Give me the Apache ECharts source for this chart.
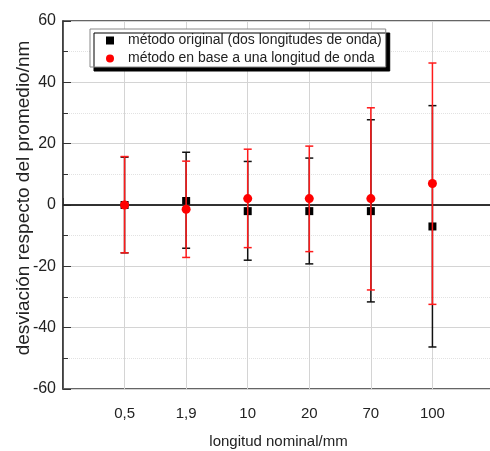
<!DOCTYPE html>
<html>
<head>
<meta charset="utf-8">
<script src="https://cdn.jsdelivr.net/npm/echarts@6/dist/echarts.min.js"></script>
<style>
  html, body { margin: 0; padding: 0; background: #fff; }
  #main { width: 490px; height: 451px; }
</style>
</head>
<body>
<div id="main"></div>
<script>
// categorías del eje x
var categories = ['0,5', '1,9', '10', '20', '70', '100'];
// método original (dos longitudes de onda)
var origValues = [0, 1.3, -2, -2, -2, -7];
var origUpper = [15.6, 17.2, 14.2, 15.3, 27.8, 32.4];
var origLower = [-15.6, -14.1, -18, -19.2, -31.6, -46.3];
// método en base a una longitud de onda
var oneValues = [0, -1.4, 2.1, 2.1, 2.1, 7];
var oneUpper = [15.8, 14.3, 18.2, 19.2, 31.7, 46.3];
var oneLower = [-15.6, -17.1, -13.9, -15.2, -27.7, -32.4];
var yTicks = [-60, -40, -20, 0, 20, 40, 60];

(function () {
  var myChart = echarts.init(document.getElementById('main'));
  var font = '"Liberation Sans", Arial, sans-serif';

  function pts(vals) {
    return vals.map(function (v, i) { return [i + 1, v]; });
  }
  function bars(lo, hi) {
    return lo.map(function (v, i) { return [i + 1, v, hi[i]]; });
  }
  function errRender(color) {
    return function (params, api) {
      var x = api.value(0);
      var bot = api.coord([x, api.value(1)]);
      var top = api.coord([x, api.value(2)]);
      var w = 4;
      var st = { stroke: color, lineWidth: 1.5 };
      return {
        type: 'group',
        children: [
          { type: 'line', shape: { x1: top[0], y1: top[1], x2: bot[0], y2: bot[1] }, style: st },
          { type: 'line', shape: { x1: top[0] - w, y1: top[1], x2: top[0] + w, y2: top[1] }, style: st },
          { type: 'line', shape: { x1: bot[0] - w, y1: bot[1], x2: bot[0] + w, y2: bot[1] }, style: st }
        ]
      };
    };
  }

  var option = {
    backgroundColor: '#fff',
    animation: false,
    grid: {
      left: 63, top: 21, width: 431, height: 368,
      outerBoundsMode: 'none',
      show: true, borderColor: '#333', borderWidth: 1.5
    },
    legend: {
      data: ['método original (dos longitudes de onda)', 'método en base a una longitud de onda'],
      orient: 'vertical',
      left: 90, top: 29,
      padding: [4, 4, 1, 16],
      itemWidth: 8, itemHeight: 8, itemGap: 3,
      backgroundColor: '#fff',
      borderColor: '#888', borderWidth: 1,
      shadowColor: '#000', shadowBlur: 0, shadowOffsetX: 4, shadowOffsetY: 4,
      textStyle: { fontFamily: font, fontSize: 14, color: '#222', lineHeight: 15, padding: [0, 0, 0, 9] }
    },
    xAxis: {
      type: 'value', min: 0, max: 7, interval: 1,
      name: 'longitud nominal/mm', nameLocation: 'middle', nameGap: 45,
      nameMoveOverlap: false,
      nameTextStyle: { fontFamily: font, fontSize: 15, color: '#222' },
      axisLine: { lineStyle: { color: '#333', width: 1.5 } },
      axisTick: { inside: true, length: 7, lineStyle: { color: '#333' } },
      axisLabel: {
        margin: 17, fontFamily: font, fontSize: 15, color: '#222',
        formatter: function (v) { return categories[v - 1] || ''; }
      },
      splitLine: { show: true, lineStyle: { color: '#d4d4d4', width: 1 } }
    },
    yAxis: {
      type: 'value', min: yTicks[0], max: yTicks[yTicks.length - 1], interval: 20,
      name: 'desviación respecto del promedio/nm', nameLocation: 'middle', nameGap: 30,
      nameMoveOverlap: false,
      nameTextStyle: { fontFamily: font, fontSize: 19, color: '#222', padding: [0, 0, 0, 14] },
      axisLine: { show: true, lineStyle: { color: '#333', width: 1.5 } },
      axisTick: { inside: true, length: 8, lineStyle: { color: '#333' } },
      minorTick: { show: true, splitNumber: 2, length: 5, lineStyle: { color: '#333' } },
      axisLabel: { margin: 7, fontFamily: font, fontSize: 16, color: '#222' },
      splitLine: { show: true, lineStyle: { color: '#d4d4d4', width: 1 } },
      minorSplitLine: { show: true, lineStyle: { color: '#e2e2e2', type: 'dotted', width: 1 } }
    },
    series: [
      {
        name: 'zero', type: 'line', data: [], silent: true,
        markLine: {
          silent: true, symbol: 'none', label: { show: false },
          lineStyle: { color: '#222', width: 1.5, type: 'solid' },
          data: [{ yAxis: 0 }]
        }
      },
      {
        type: 'custom', renderItem: errRender('#111'), data: bars(origLower, origUpper),
        encode: { x: 0, y: [1, 2] }, z: 3
      },
      {
        name: 'método original (dos longitudes de onda)', type: 'scatter', data: pts(origValues),
        symbol: 'rect', symbolSize: 8, itemStyle: { color: '#000', opacity: 1 }, z: 4
      },
      {
        type: 'custom', renderItem: errRender('#ff1a1a'), data: bars(oneLower, oneUpper),
        encode: { x: 0, y: [1, 2] }, z: 5
      },
      {
        name: 'método en base a una longitud de onda', type: 'scatter', data: pts(oneValues),
        symbol: 'circle', symbolSize: 9, itemStyle: { color: '#ff0000', opacity: 1 }, z: 6
      }
    ]
  };
  myChart.setOption(option);
})();
</script>
</body>
</html>
